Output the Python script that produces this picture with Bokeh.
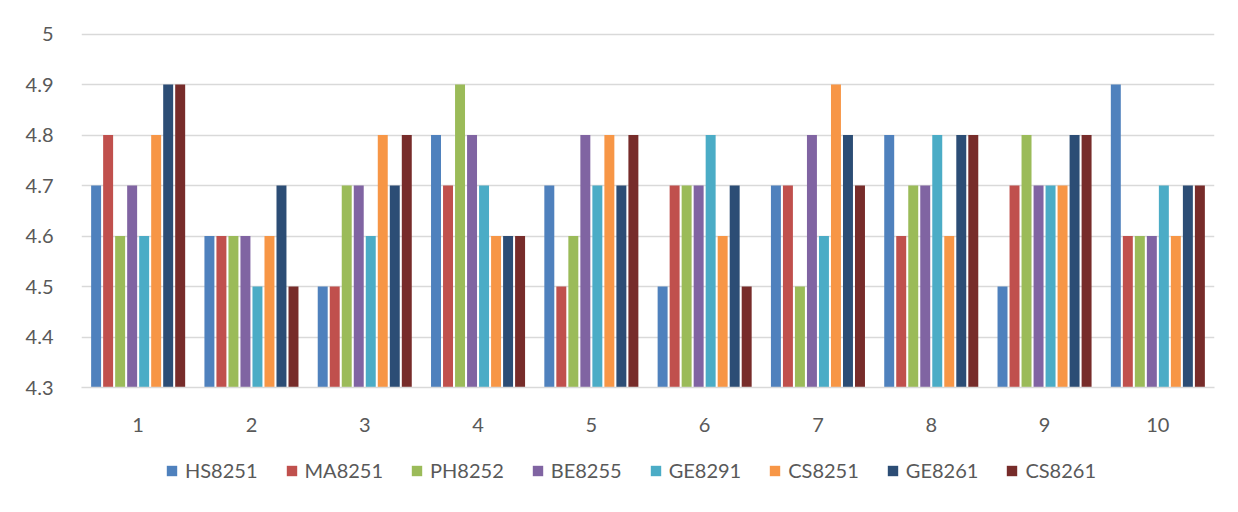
from bokeh.plotting import figure
from bokeh.layouts import column
from bokeh.models import FactorRange, Range1d, FixedTicker, Legend, LegendItem
from bokeh.transform import dodge
from bokeh.embed import file_html
from bokeh.resources import INLINE
from bokeh.models import ColumnDataSource

categories = ["1", "2", "3", "4", "5", "6", "7", "8", "9", "10"]
HS8251 = [4.7, 4.6, 4.5, 4.8, 4.7, 4.5, 4.7, 4.8, 4.5, 4.9]
MA8251 = [4.8, 4.6, 4.5, 4.7, 4.5, 4.7, 4.7, 4.6, 4.7, 4.6]
PH8252 = [4.6, 4.6, 4.7, 4.9, 4.6, 4.7, 4.5, 4.7, 4.8, 4.6]
BE8255 = [4.7, 4.6, 4.7, 4.8, 4.8, 4.7, 4.8, 4.7, 4.7, 4.6]
GE8291 = [4.6, 4.5, 4.6, 4.7, 4.7, 4.8, 4.6, 4.8, 4.7, 4.7]
CS8251 = [4.8, 4.6, 4.8, 4.6, 4.8, 4.6, 4.9, 4.6, 4.7, 4.6]
GE8261 = [4.9, 4.7, 4.7, 4.6, 4.7, 4.7, 4.8, 4.8, 4.8, 4.7]
CS8261 = [4.9, 4.5, 4.8, 4.6, 4.8, 4.5, 4.7, 4.8, 4.8, 4.7]
series_names = ["HS8251", "MA8251", "PH8252", "BE8255", "GE8291", "CS8251", "GE8261", "CS8261"]
series_values = [HS8251, MA8251, PH8252, BE8255, GE8291, CS8251, GE8261, CS8261]
y_ticks = [4.3, 4.4, 4.5, 4.6, 4.7, 4.8, 4.9, 5.0]

colors = ["#4F81BD", "#C0504D", "#9BBB59", "#8064A2", "#4BACC6", "#F79646", "#2C4D75", "#772C2A"]

FONT = "Lato"
TXT = "#595959"

data = {"x": categories}
for n, v in zip(series_names, series_values):
    data[n] = v
source = ColumnDataSource(data)

p = figure(x_range=FactorRange(*categories, range_padding=0.0),
           y_range=Range1d(4.3, 5.003),
           width=1230, height=440, output_backend="svg", toolbar_location=None,
           min_border_left=81, min_border_right=16, min_border_top=32, min_border_bottom=53)
p.outline_line_color = None
p.background_fill_color = "white"
p.border_fill_color = "white"

step = 0.106
for i, (n, c) in enumerate(zip(series_names, colors)):
    off = (i - 3.5) * step
    p.vbar(x=dodge("x", off, range=p.x_range), top=n, bottom=4.3, width=0.088,
           source=source, fill_color=c, line_color=None)

p.yaxis.ticker = FixedTicker(ticks=y_ticks)
p.yaxis.major_label_overrides = {5: "5"}
p.ygrid.grid_line_color = "#D9D9D9"
p.ygrid.grid_line_width = 1.5
p.xgrid.grid_line_color = None

for ax in (p.xaxis, p.yaxis):
    ax.axis_line_color = None
    ax.major_tick_line_color = None
    ax.minor_tick_line_color = None
    ax.major_label_text_font = FONT
    ax.major_label_text_font_size = "20px"
    ax.major_label_text_color = TXT
p.xaxis.axis_line_color = "#D9D9D9"
p.xaxis.axis_line_width = 1.5
p.yaxis.major_label_standoff = 22
p.xaxis.major_label_standoff = 24

# legend in its own strip below the chart (its bars are hidden; only the legend shows)
q = figure(width=1230, height=64, output_backend="svg", toolbar_location=None,
           min_border=0, x_range=FactorRange(*categories), y_range=Range1d(100, 101))
q.axis.visible = False
q.grid.visible = False
q.outline_line_color = None
q.border_fill_color = "white"
q.background_fill_color = "white"
items = []
for n, c in zip(series_names, colors):
    r = q.vbar(x="x", top=n, bottom=4.3, width=0.1, source=source,
               fill_color=c, line_color=None)
    r.visible = False
    items.append(LegendItem(label=n, renderers=[r]))

legend = Legend(items=items, orientation="horizontal", location=(84, 22))
legend.label_text_font = FONT
legend.label_text_font_size = "20px"
legend.label_text_color = TXT
legend.glyph_width = 13
legend.glyph_height = 13
legend.label_standoff = 7
legend.spacing = 27
legend.padding = 0
legend.margin = 0
legend.border_line_color = None
legend.background_fill_alpha = 0
q.add_layout(legend, "center")

layout = column(p, q, spacing=0)
open("out.html", "w").write(file_html(layout, INLINE))
